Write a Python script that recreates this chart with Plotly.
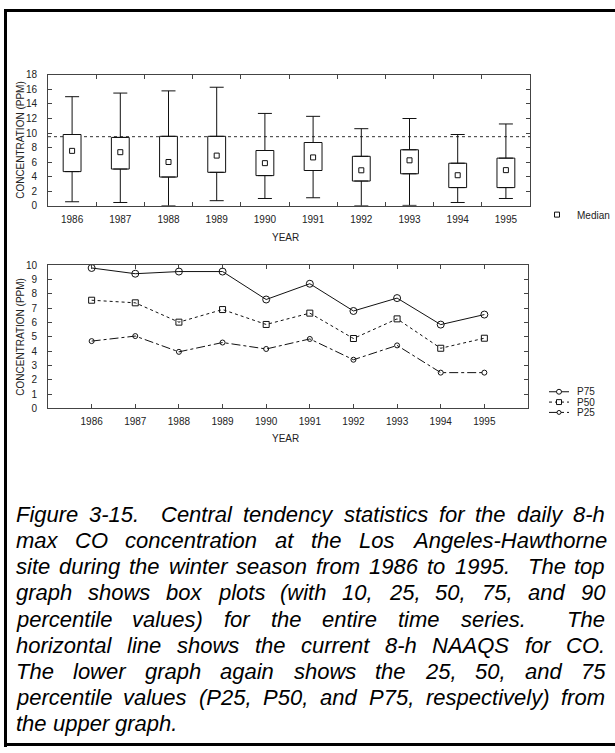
import plotly.graph_objects as go

W, H = 615, 753

# ---------------- data ----------------
years = [1986, 1987, 1988, 1989, 1990, 1991, 1992, 1993, 1994, 1995]
year_labels = [str(y) for y in years]
p10 = [0.55, 0.45, 0.0, 0.7, 1.0, 1.1, 0.0, 0.05, 0.45, 1.0]
p25 = [4.7, 5.05, 3.95, 4.6, 4.15, 4.85, 3.4, 4.4, 2.5, 2.5]
p50 = [7.55, 7.37, 6.02, 6.9, 5.86, 6.65, 4.88, 6.25, 4.2, 4.9]
p75 = [9.8, 9.4, 9.55, 9.55, 7.6, 8.7, 6.8, 7.7, 5.85, 6.55]
p90 = [15.0, 15.5, 15.8, 16.3, 12.7, 12.3, 10.6, 12.0, 9.8, 11.25]
naaqs = 9.5

y_title = "CONCENTRATION (PPM)"
x_title = "YEAR"
series_names = ["P75", "P50", "P25"]

caption_lines = [
    "Figure 3-15.  Central tendency statistics for the daily 8-h",
    "max CO concentration at the Los Angeles-Hawthorne",
    "site during the winter season from 1986 to 1995.  The top",
    "graph shows box plots (with 10, 25, 50, 75, and 90",
    "percentile values) for the entire time series.  The",
    "horizontal line shows the current 8-h NAAQS for CO.",
    "The lower graph again shows the 25, 50, and 75",
    "percentile values (P25, P50, and P75, respectively) from",
    "the upper graph.",
]


def px(x):
    return x / W


def py(y):
    return 1 - y / H


INK = "#111111"
AX = "#444444"
FONT = "Liberation Sans, Arial, sans-serif"

fig = go.Figure()
ann = []
shapes = []

# ---------------- upper box plot ----------------
fig.add_trace(go.Bar(
    x=year_labels, y=[b - a for a, b in zip(p25, p75)], base=p25, width=0.37,
    marker=dict(color="white", line=dict(color=INK, width=1)),
    xaxis="x", yaxis="y", showlegend=False, hoverinfo="skip"))
fig.add_trace(go.Scatter(
    x=year_labels, y=p75, mode="markers",
    marker=dict(color="rgba(0,0,0,0)", size=1),
    error_y=dict(type="data", symmetric=False,
                 array=[b - a for a, b in zip(p75, p90)],
                 arrayminus=[0] * len(p75), width=7, thickness=1, color=INK),
    xaxis="x", yaxis="y", showlegend=False, hoverinfo="skip"))
fig.add_trace(go.Scatter(
    x=year_labels, y=p25, mode="markers",
    marker=dict(color="rgba(0,0,0,0)", size=1),
    error_y=dict(type="data", symmetric=False,
                 array=[0] * len(p25),
                 arrayminus=[a - b for a, b in zip(p25, p10)], width=7, thickness=1, color=INK),
    xaxis="x", yaxis="y", showlegend=False, hoverinfo="skip"))
fig.add_trace(go.Scatter(
    x=year_labels, y=p50, mode="markers", name="Median",
    marker=dict(symbol="square-open", size=5, color=INK, line=dict(width=1)),
    xaxis="x", yaxis="y", showlegend=True))

shapes.append(dict(type="line", xref="x domain", x0=0, x1=1, yref="y", y0=naaqs, y1=naaqs,
                   line=dict(color="#333333", width=1, dash="dot"), layer="below"))

# ---------------- lower line plot ----------------
styles = [
    (p75, "solid", "circle-open", 7),
    (p50, "dot", "square-open", 6),
    (p25, "dashdot", "circle-open", 5),
]
for name, (vals, dash, sym, size) in zip(series_names, styles):
    fig.add_trace(go.Scatter(
        x=years, y=vals, mode="lines+markers", name=name,
        line=dict(color=INK, width=1, dash=dash),
        marker=dict(symbol=sym, size=size, color=INK, line=dict(width=1)),
        xaxis="x2", yaxis="y2", showlegend=False))

tickfont = dict(family=FONT, size=10, color="#222222")
axis_common = dict(showline=True, linecolor=AX, linewidth=1, mirror="ticks",
                   ticks="inside", ticklen=4, tickcolor=AX, showgrid=False,
                   zeroline=False, tickfont=tickfont)

fig.update_layout(
    width=W, height=H, margin=dict(l=0, r=0, t=0, b=0),
    paper_bgcolor="white", plot_bgcolor="white",
    showlegend=True,
    legend=dict(x=px(537), y=py(212), xanchor="left", yanchor="middle",
                bgcolor="rgba(0,0,0,0)", borderwidth=0,
                font=dict(family=FONT, size=10, color="#222222"),
                itemwidth=30, tracegroupgap=0),
    xaxis=dict(domain=[px(48), px(530)], anchor="y", type="category",
               tickson="boundaries", range=[-0.5, 9.5], ticklabelstandoff=4,
               **axis_common),
    yaxis=dict(domain=[py(203), py(70)], anchor="x", range=[0, 18], dtick=2,
               ticklabelstandoff=8, **axis_common),
    xaxis2=dict(domain=[px(48), px(528)], anchor="y2", range=[1985, 1996],
                tickvals=years, ticklabelstandoff=4, **axis_common),
    yaxis2=dict(domain=[py(409), py(263.3)], anchor="x2", range=[0, 10], dtick=1,
                ticklabelstandoff=8, **axis_common),
)


def label(text, x, y, size=10, xanchor="center", textangle=0, style="normal", color="#222222"):
    ann.append(dict(text=text, x=px(x), y=py(y), xref="paper", yref="paper",
                    xanchor=xanchor, yanchor="middle", showarrow=False,
                    textangle=textangle, borderpad=0, borderwidth=0,
                    font=dict(family=FONT, size=size, color=color, style=style)))


# axis titles
label(y_title, 21, 136, size=10, textangle=-90)
label(y_title, 21, 336, size=10, textangle=-90)
label(x_title, 285, 235, size=10)
label(x_title, 285, 440, size=10)

# lower legend (compact, drawn by hand)
leg_y = [392, 402.5, 413]
for name, (vals, dash, sym, size), ly in zip(series_names, styles, leg_y):
    shapes.append(dict(type="line", xref="paper", yref="paper",
                       x0=px(549), x1=px(569), y0=py(ly), y1=py(ly),
                       line=dict(color=INK, width=1, dash=dash), layer="above"))
    stype = "rect" if "square" in sym else "circle"
    r = 2.5 if size >= 6 else 2
    shapes.append(dict(type=stype, xref="paper", yref="paper",
                       x0=px(559 - r), x1=px(559 + r), y0=py(ly + r), y1=py(ly - r),
                       line=dict(color=INK, width=1), fillcolor="white", layer="above"))
    label(name, 577, ly, size=10, xanchor="left")

# frame
for (x0, y0, x1, y1) in [(4, 4.5, 615, 4.5), (5.5, 3, 5.5, 753), (4, 750.5, 615, 750.5)]:
    shapes.append(dict(type="line", xref="paper", yref="paper",
                       x0=px(x0), y0=py(y0), x1=px(x1), y1=py(y1),
                       line=dict(color="black", width=3), layer="above"))

# ---------------- caption (justified) ----------------
HELV = {" ": 278, ".": 278, ",": 278, "-": 333, "(": 333, ")": 333}
for c in "0123456789":
    HELV[c] = 556
for c, w in zip("abcdefghijklmnopqrstuvwxyz",
                [556, 556, 500, 556, 556, 278, 556, 556, 222, 222, 500, 222, 833,
                 556, 556, 556, 556, 333, 500, 278, 556, 500, 722, 500, 500, 500]):
    HELV[c] = w
for c, w in zip("ABCDEFGHIJKLMNOPQRSTUVWXYZ",
                [667, 667, 722, 722, 667, 611, 778, 722, 278, 500, 667, 556, 833,
                 722, 778, 667, 778, 722, 667, 611, 722, 667, 944, 667, 667, 611]):
    HELV[c] = w

CAP_SIZE = 22
CAP_LEFT, CAP_RIGHT = 16, 605
CAP_TOP, CAP_STEP = 517, 26.5


def tw(s):
    return sum(HELV.get(c, 556) for c in s) * CAP_SIZE / 1000


space_w = tw(" ")
for i, line in enumerate(caption_lines):
    yline = CAP_TOP + i * CAP_STEP
    words, gaps = [], []
    pending = 0
    for t in line.split(" "):
        if t == "":
            pending += 1
            continue
        if words:
            gaps.append(1 + pending)
        pending = 0
        words.append(t)
    natural = sum(tw(w) for w in words) + sum(gaps) * space_w
    last = i == len(caption_lines) - 1
    unit = space_w if last else space_w + (CAP_RIGHT - CAP_LEFT - natural) / max(sum(gaps), 1)
    x = CAP_LEFT
    for j, w in enumerate(words):
        label(w, x, yline, size=CAP_SIZE, xanchor="left", style="italic", color="black")
        x += tw(w)
        if j < len(gaps):
            x += gaps[j] * unit

fig.update_layout(annotations=ann, shapes=shapes)
fig.write_html("out.html")
